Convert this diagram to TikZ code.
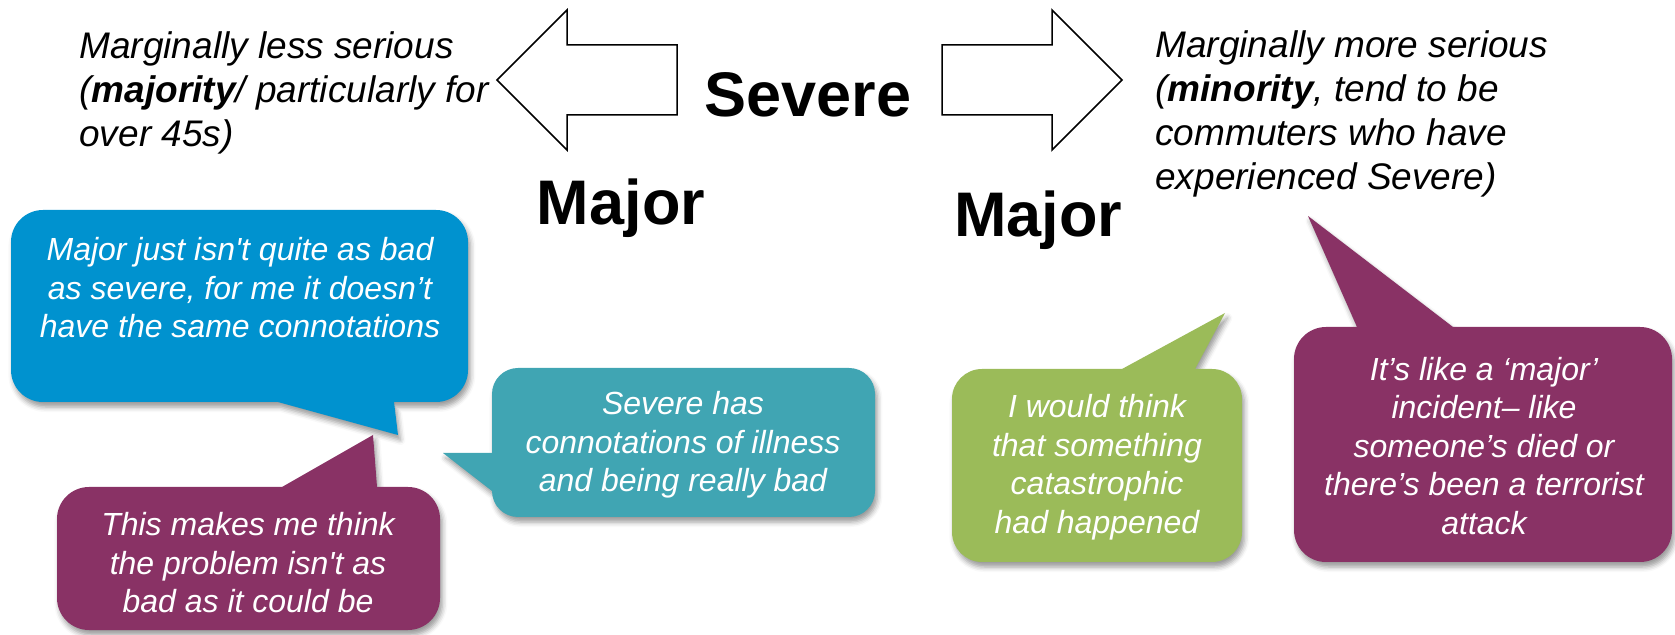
\documentclass[tikz,border=0pt]{standalone}
\usepackage{fontspec}
\setmainfont{Liberation Sans}
\usetikzlibrary{shadows.blur}
\definecolor{quoteblue}{RGB}{0,146,207}
\definecolor{quoteteal}{RGB}{64,165,179}
\definecolor{quotegreen}{RGB}{155,187,89}
\definecolor{quoteplum}{RGB}{137,50,101}
\begin{document}
\begin{tikzpicture}[x=0.5pt,y=-0.5pt,
  bubble/.style={blur shadow={shadow xshift=1.2pt,shadow yshift=-2.5pt,shadow opacity=40,shadow blur radius=2.5pt}},
  quote/.style={text=white,align=center,inner sep=0pt,font=\fontsize{16}{19.25}\selectfont\itshape},
  side/.style={align=left,inner sep=0pt,anchor=west,font=\fontsize{18.5}{22}\selectfont\itshape},
  term/.style={anchor=base,inner sep=0pt,font=\fontsize{31.5}{38}\selectfont\bfseries}]

	\useasboundingbox (0,0) rectangle (1675,635);

	% Arrows

	\draw[line width=0.75pt] (497,80) -- (567,10) -- (567,45) -- (677,45) -- (677,115) -- (567,115) -- (567,150) -- cycle;
	\draw[line width=0.75pt] (942,45) -- (1052,45) -- (1052,10) -- (1122,80) -- (1052,150) -- (1052,115) -- (942,115) -- cycle;

	\node[term] (severe) at (808,117) {Severe};
	\node[term] (majorleft) at (621,225) {Major};
	\node[term] (majorright) at (1038,237) {Major};

	\node[side] (lessnote) at (79,93) {Marginally less serious\\(\textbf{majority}/ particularly for\\over 45s)};
	\node[side] (morenote) at (1155,114) {Marginally more serious\\(\textbf{minority}, tend to be\\commuters who have\\experienced Severe)};

	% Bubbles

	\fill[quoteblue,bubble] (43,210) -- (436,210) arc[start angle=270,end angle=360,radius=32] -- (468,370) arc[start angle=0,end angle=90,radius=32] -- (394,402) -- (398,435) -- (278,402) -- (43,402) arc[start angle=90,end angle=180,radius=32] -- (11,242) arc[start angle=180,end angle=270,radius=32] -- cycle;

	\fill[quoteplum,bubble] (89,487) -- (282,487) -- (373,435) -- (377,487) -- (408,487) arc[start angle=270,end angle=360,radius=32] -- (440,598) arc[start angle=0,end angle=90,radius=32] -- (89,630) arc[start angle=90,end angle=180,radius=32] -- (57,519) arc[start angle=180,end angle=270,radius=32] -- cycle;

	\fill[quoteteal,bubble] (518,368) -- (849,368) arc[start angle=270,end angle=360,radius=26] -- (875,491) arc[start angle=0,end angle=90,radius=26] -- (518,517) arc[start angle=90,end angle=180,radius=26] -- (492,491) -- (443,453) -- (492,453) -- (492,394) arc[start angle=180,end angle=270,radius=26] -- cycle;

	\fill[quotegreen,bubble] (982,369) -- (1122,369) -- (1225,313) -- (1195,369) -- (1212,369) arc[start angle=270,end angle=360,radius=30] -- (1242,532) arc[start angle=0,end angle=90,radius=30] -- (982,562) arc[start angle=90,end angle=180,radius=30] -- (952,399) arc[start angle=180,end angle=270,radius=30] -- cycle;

	\fill[quoteplum,bubble] (1326,327) -- (1357,327) -- (1308,216) -- (1453,327) -- (1640,327) arc[start angle=270,end angle=360,radius=32] -- (1672,530) arc[start angle=0,end angle=90,radius=32] -- (1326,562) arc[start angle=90,end angle=180,radius=32] -- (1294,359) arc[start angle=180,end angle=270,radius=32] -- cycle;

	\node[quote] (bluequote) at (240,288) {Major just isn\textquotesingle t quite as bad\\as severe, for me it doesn’t\\have the same connotations};
	\node[quote] (plumquote) at (248,563) {This makes me think\\the problem isn\textquotesingle t as\\bad as it could be};
	\node[quote] (tealquote) at (683,445) {Severe has\\connotations of illness\\and being really bad};
	\node[quote] (greenquote) at (1097,467) {I would think\\that something\\catastrophic\\had happened};
	\node[quote] (incidentquote) at (1484,446) {It’s like a ‘major’\\incident– like\\someone’s died or\\there’s been a terrorist\\attack};

\end{tikzpicture}
\end{document}
